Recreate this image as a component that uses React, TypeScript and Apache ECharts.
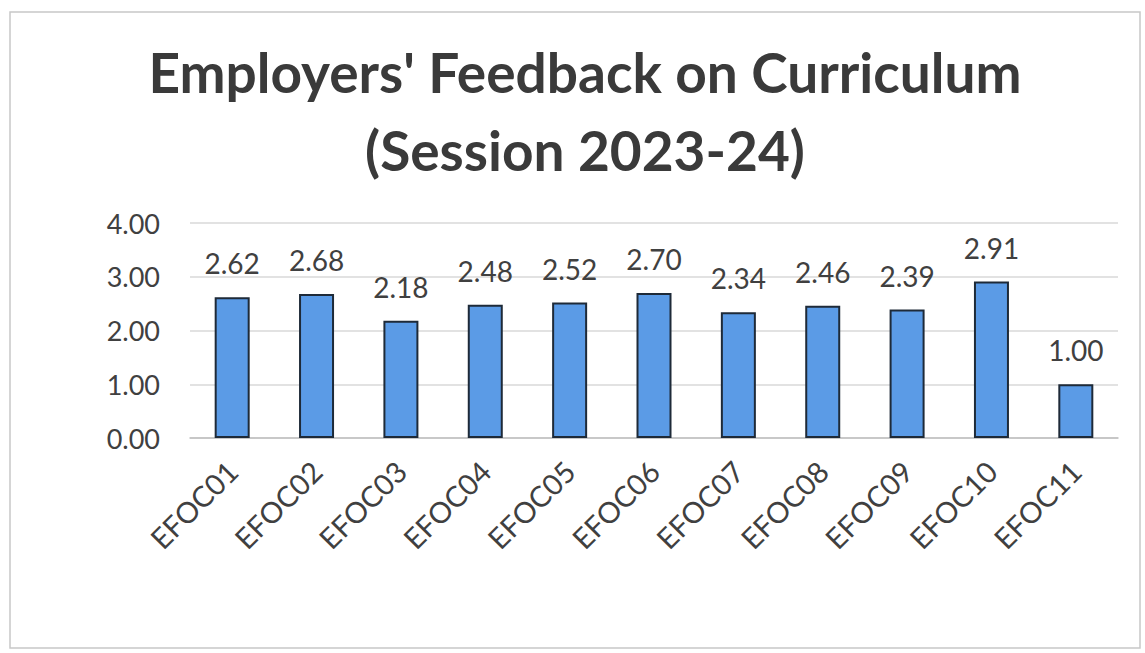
import React, { useEffect, useRef } from "react";
import * as echarts from "echarts";

const categories = ["EFOC01", "EFOC02", "EFOC03", "EFOC04", "EFOC05", "EFOC06", "EFOC07", "EFOC08", "EFOC09", "EFOC10", "EFOC11"];
const values = [2.62, 2.68, 2.18, 2.48, 2.52, 2.70, 2.34, 2.46, 2.39, 2.91, 1.0];
const yTicks = [0, 1, 2, 3, 4];
const titleLines = ["Employers' Feedback on Curriculum", "(Session 2023-24)"];

const FONT = "Lato, 'Open Sans', sans-serif";

export default function App() {
  const ref = useRef<HTMLDivElement>(null);
  useEffect(() => {
    if (!ref.current) return;
    const chart = echarts.init(ref.current, null, { renderer: "svg" });
    chart.setOption({
      animation: false,
      backgroundColor: "#ffffff",
      title: {
        text: titleLines.join("\n"),
        left: 580,
        textAlign: "center",
        top: 28,
        textStyle: {
          fontFamily: FONT,
          fontWeight: "bold",
          fontSize: 55,
          lineHeight: 78,
          color: "#3a3a3a",
        },
      },
      graphic: [
        {
          type: "rect",
          shape: { x: 10, y: 12, width: 1130, height: 636 },
          style: { fill: "none", stroke: "#c8c8c8", lineWidth: 1.5 },
          silent: true,
        },
      ],
      grid: { left: 190, right: 27, top: 223, bottom: 215 },
      xAxis: {
        type: "category",
        data: categories,
        axisLine: { lineStyle: { color: "#bfbfbf", width: 1.5 } },
        axisTick: { show: false },
        axisLabel: {
          rotate: 45,
          fontFamily: FONT,
          fontSize: 29,
          color: "#404040",
          margin: 28,
          interval: 0,
        },
      },
      yAxis: {
        type: "value",
        min: yTicks[0],
        max: yTicks[yTicks.length - 1],
        interval: 1,
        axisLine: { show: false },
        axisTick: { show: false },
        axisLabel: {
          fontFamily: FONT,
          fontSize: 27,
          color: "#404040",
          margin: 30,
          formatter: (v: number) => v.toFixed(2),
        },
        splitLine: { lineStyle: { color: "#d9d9d9", width: 1.5 } },
      },
      series: [
        {
          type: "bar",
          data: values,
          barWidth: 35,
          itemStyle: {
            color: "#5b9be6",
            borderColor: "#1e2a38",
            borderWidth: 2,
          },
          label: {
            show: true,
            position: "top",
            distance: 20,
            fontFamily: FONT,
            fontSize: 28,
            color: "#404040",
            formatter: (p: any) => Number(p.value).toFixed(2),
          },
        },
      ],
    });
    return () => chart.dispose();
  }, []);
  return (
    <div
      ref={ref}
      style={{ position: "absolute", left: 0, top: 0, width: 1145, height: 653 }}
    />
  );
}
